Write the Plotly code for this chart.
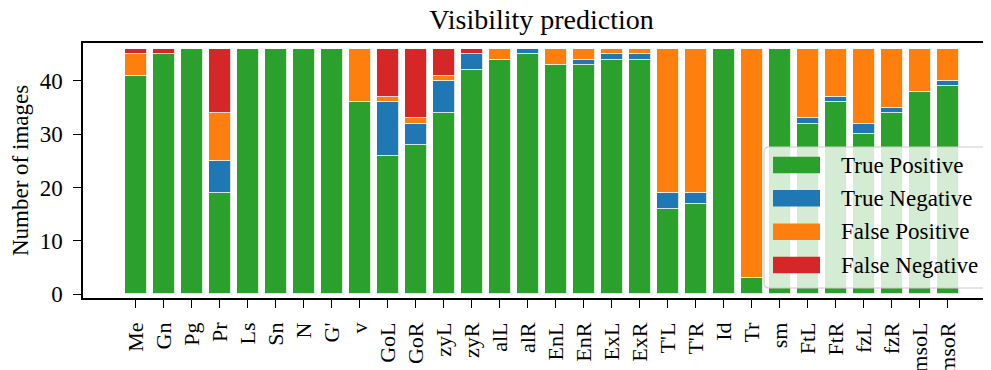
import plotly.graph_objects as go

categories = ["Me", "Gn", "Pg", "Pr", "Ls", "Sn", "N", "G'", "v", "GoL", "GoR", "zyL", "zyR",
              "alL", "alR", "EnL", "EnR", "ExL", "ExR", "T'L", "T'R", "Id", "Tr", "sm",
              "FtL", "FtR", "fzL", "fzR", "msoL", "msoR"]
true_positive = [41, 45, 46, 19, 46, 46, 46, 46, 36, 26, 28, 34, 42, 44, 45, 43, 43, 44, 44,
                 16, 17, 46, 3, 46, 32, 36, 30, 34, 38, 39]
true_negative = [0, 0, 0, 6, 0, 0, 0, 0, 0, 10, 4, 6, 3, 0, 1, 0, 1, 1, 1,
                 3, 2, 0, 0, 0, 1, 1, 2, 1, 0, 1]
false_positive = [4, 0, 0, 9, 0, 0, 0, 0, 10, 1, 1, 1, 0, 2, 0, 3, 2, 1, 1,
                  27, 27, 0, 43, 0, 13, 9, 14, 11, 8, 6]
false_negative = [1, 1, 0, 12, 0, 0, 0, 0, 0, 9, 13, 5, 1, 0, 0, 0, 0, 0, 0,
                  0, 0, 0, 0, 0, 0, 0, 0, 0, 0, 0]
series_names = ["True Positive", "True Negative", "False Positive", "False Negative"]
y_ticks = [0, 10, 20, 30, 40]

series_values = [true_positive, true_negative, false_positive, false_negative]
colors = ["#2ca02c", "#1f77b4", "#ff7f0e", "#d62728"]

# the page body has an 8px margin; the figure is sized so it ends at the window edge
OFF = 8
W, H = 991 - OFF, 370 - OFF
L, R, T, B = 83 - OFF, 0, 43 - OFF, 370 - 298
PW, PH = W - L - R, H - T - B
FONT = "Liberation Serif, Times New Roman, serif"


def px(x):  # page pixel -> paper
    return (x - OFF - L) / PW


def py(y):  # page pixel -> paper
    return (H + OFF - B - y) / PH


fig = go.Figure()
for name, vals, col in zip(series_names, series_values, colors):
    fig.add_trace(go.Bar(
        x=categories, y=vals, name=name, width=0.8,
        marker=dict(color=col, line=dict(color="white", width=0.8)),
        showlegend=False,
    ))

# custom legend (matplotlib-like)
x0, x1, y0, y1, r = 764, 988, 147, 288, 5
path = (f"M {px(x0 + r)},{py(y0)} L {px(x1 - r)},{py(y0)} Q {px(x1)},{py(y0)} {px(x1)},{py(y0 + r)} "
        f"L {px(x1)},{py(y1 - r)} Q {px(x1)},{py(y1)} {px(x1 - r)},{py(y1)} "
        f"L {px(x0 + r)},{py(y1)} Q {px(x0)},{py(y1)} {px(x0)},{py(y1 - r)} "
        f"L {px(x0)},{py(y0 + r)} Q {px(x0)},{py(y0)} {px(x0 + r)},{py(y0)} Z")
shapes = [dict(type="path", xref="paper", yref="paper", path=path,
               fillcolor="rgba(255,255,255,0.8)", line=dict(color="rgba(204,204,204,1)", width=1.2),
               layer="above")]
annotations = []
row_centers = [165, 198.3, 231.7, 265]
for name, col, yc in zip(series_names, colors, row_centers):
    shapes.append(dict(type="rect", xref="paper", yref="paper",
                       x0=px(773), x1=px(820), y0=py(yc - 8.3), y1=py(yc + 8.3),
                       fillcolor=col, line=dict(width=0), layer="above"))
    annotations.append(dict(xref="paper", yref="paper", x=px(839), y=py(yc), text=name,
                            showarrow=False, xanchor="left", yanchor="middle",
                            font=dict(size=23, color="black", family=FONT)))

annotations.append(dict(xref="paper", yref="paper", x=px(20), y=py(171), text="Number of images",
                        textangle=-90, showarrow=False, xanchor="center", yanchor="middle",
                        font=dict(size=23, color="black", family=FONT)))

fig.update_layout(
    width=W, height=H,
    margin=dict(l=L, r=R, t=T, b=B, pad=0, autoexpand=False),
    barmode="stack",
    plot_bgcolor="white", paper_bgcolor="white",
    font=dict(family=FONT, size=23, color="black"),
    title=dict(text="Visibility prediction", x=(541.5 - OFF) / W, xref="container", xanchor="center",
               y=1 - (19 - OFF) / H, yref="container", yanchor="middle",
               font=dict(size=28, family=FONT, color="black")),
    shapes=shapes, annotations=annotations,
    bargap=0,
)
fig.update_xaxes(range=[-1.89, 30.54], type="category", tickangle=-90,
                 tickmode="linear", tick0=0, dtick=1, automargin=False,
                 showline=True, linecolor="black", linewidth=1.5, mirror=True,
                 ticks="outside", ticklen=8, tickwidth=1.3, tickcolor="black",
                 ticklabelstandoff=6,
                 showgrid=False, zeroline=False, tickfont=dict(size=22, family=FONT))
fig.update_yaxes(range=[-0.7, 47.1], tickvals=y_ticks, automargin=False,
                 showline=True, linecolor="black", linewidth=1.5, mirror=False,
                 ticks="outside", ticklen=8, tickwidth=1.3, tickcolor="black",
                 ticklabelstandoff=6,
                 showgrid=False, zeroline=False, tickfont=dict(size=23, family=FONT))

fig.write_html("out.html")
